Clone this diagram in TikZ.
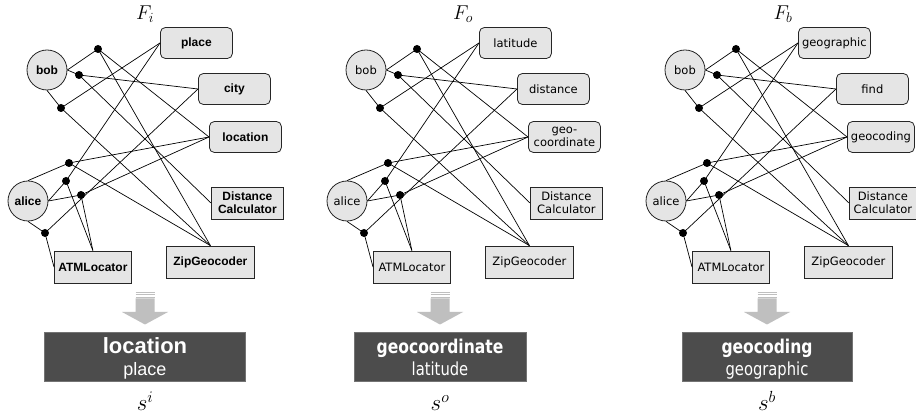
\RequirePackage{fix-cm}
\documentclass[tikz,border=0pt]{standalone}
\usepackage{fontspec}
\setmainfont{Liberation Sans}
\newfontfamily\arialf{Liberation Sans}
\newfontfamily\dejaf{DejaVu Sans}
\newfontfamily\dejacf[FakeStretch=0.91]{DejaVu Sans Condensed}
\newcommand{\pfa}{\arialf\bfseries\fontsize{12}{13}\selectfont}
\newcommand{\pfb}{\dejaf\fontsize{11.5}{13}\selectfont}
\tikzset{
  edge/.style={draw=black, line width=0.7pt},
  tagbox/.style={draw=black!85, fill=gray!20, rounded corners=5pt, minimum height=31pt, inner sep=0pt, anchor=west, align=center, line width=0.8pt},
  resbox/.style={draw=black!85, fill=gray!20, minimum height=32pt, inner sep=0pt, anchor=west, align=center, line width=0.8pt},
  userc/.style={draw=black!85, fill=gray!20, circle, minimum size=40pt, inner sep=0pt, line width=0.8pt},
  tdot/.style={circle, fill=black, minimum size=8pt, inner sep=0pt},
  darkbox/.style={fill=black!70, draw=black!55, minimum height=49pt, inner sep=0pt},
  grayarrow/.style={fill=black!25, draw=none},
  stripe/.style={draw=black!25, line width=0.9pt},
}
% #1 shift, #2 prefix, #3 font, #4 #5 #6 tags, #7 width of last tag and calc
\newcommand{\drawpanel}[7]{%
\begin{scope}[xshift=#1pt, name prefix=#2-, every node/.append style={font=#3}]
  \node[userc] (bob) at (47,70) {bob};
  \node[userc] (alice) at (28,201) {alice};
  \node[tagbox, minimum width=72pt] (t1) at (160,43) {#4};
  \node[tagbox, minimum width=72pt] (t2) at (198,89) {#5};
  \node[tagbox, minimum width=#7pt] (t3) at (209,137) {#6};
  \node[resbox, minimum width=#7pt] (dc) at (211,203) {Distance\\Calculator};
  \node[resbox, minimum width=77pt] (atm) at (54,267) {ATMLocator};
  \node[resbox, minimum width=88pt] (zip) at (166,262) {ZipGeocoder};
  \node[tdot] (d1) at (98,49) {};
  \node[tdot] (d2) at (79,75) {};
  \node[tdot] (d3) at (61,108) {};
  \node[tdot] (a1) at (69,163) {};
  \node[tdot] (a2) at (66,181) {};
  \node[tdot] (a3) at (81,195) {};
  \node[tdot] (a4) at (45,233) {};
  \draw[edge] (bob.east) -- (d1.center) -- (t3.west);
  \draw[edge] (d1.center) -- (zip.north);
  \draw[edge] (bob.east) -- (d2.center) -- (t2.west);
  \draw[edge] (d2.center) -- (dc.west);
  \draw[edge] (bob.south) -- (d3.center) -- (t1.west);
  \draw[edge] (d3.center) -- (zip.north);
  \draw[edge] (alice.north) -- (a1.center) -- (t3.west);
  \draw[edge] (a1.center) -- (zip.north);
  \draw[edge] (alice.east) -- (a2.center) -- (t1.west);
  \draw[edge] (a2.center) -- (atm.north);
  \draw[edge] (alice.east) -- (a3.center) -- (t3.west);
  \draw[edge] (a3.center) -- (atm.north);
  \draw[edge] (alice.south) -- (a4.center) -- (t2.west);
  \draw[edge] (a4.center) -- (atm.west);
\end{scope}}
% result block: #1 name, #2 centre x, #3 width, #4 big text, #5 small text, #6 #7 fonts, #8 label
\newcommand{\drawresult}[8]{%
  \draw[stripe] (#2-9.5,292) -- (#2+9.5,292);
  \draw[stripe] (#2-9.5,294.5) -- (#2+9.5,294.5);
  \draw[stripe] (#2-9.5,297) -- (#2+9.5,297);
  \fill[grayarrow] (#2-9.5,298.5) -- (#2+9.5,298.5) -- (#2+9.5,312) -- (#2+23,312) -- (#2,324.5) -- (#2-23,312) -- (#2-9.5,312) -- cycle;
  \node[darkbox, minimum width=#3pt] (#1) at (#2,356.5) {};
  \node[anchor=base, text=white, font=#6] (#1-big) at (#2,354) {#4};
  \node[anchor=base, text=white, font=#7] (#1-small) at (#2,376) {#5};
  \node[anchor=base, font=\fontsize{23}{26}\selectfont] (#1-lab) at (#2,411) {#8};
}
\begin{document}
\begin{tikzpicture}[x=1pt, y=-1pt]
\useasboundingbox (0,0) rectangle (916,419);
\fill[white] (0,0) rectangle (916,419);
\node[font=\fontsize{20}{22}\selectfont] (fi) at (145,14) {$F_i$};
\node[font=\fontsize{20}{22}\selectfont] (fo) at (463,14) {$F_o$};
\node[font=\fontsize{20}{22}\selectfont] (fb) at (783,14) {$F_b$};
\drawpanel{0}{p1}{\pfa}{place}{city}{location}{72}
\drawpanel{319}{p2}{\pfb}{latitude}{distance}{geo-\\coordinate}{72}
\drawpanel{638}{p3}{\pfb}{geographic}{find}{geocoding}{67}
\drawresult{r1}{145}{201}{location}{place}{\arialf\bfseries\fontsize{22}{24}\selectfont}{\arialf\fontsize{18}{20}\selectfont}{$s^i$}
\drawresult{r2}{440}{172}{geocoordinate}{latitude}{\dejacf\bfseries\fontsize{19}{22}\selectfont}{\dejacf\fontsize{18}{20}\selectfont}{$s^o$}
\drawresult{r3}{767}{170}{geocoding}{geographic}{\dejacf\bfseries\fontsize{19}{22}\selectfont}{\dejacf\fontsize{18}{20}\selectfont}{$s^b$}
\end{tikzpicture}
\end{document}
